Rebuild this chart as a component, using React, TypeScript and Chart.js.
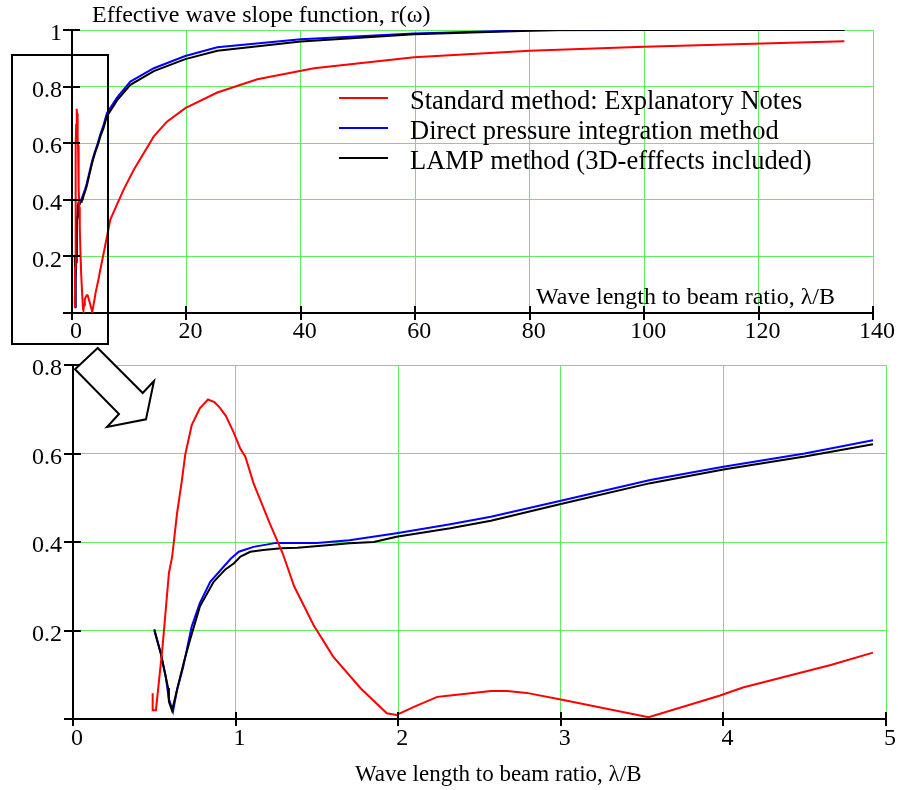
import React, { useEffect, useRef } from 'react';
import { Chart, registerables } from 'chart.js';

Chart.register(...registerables);

const FONT = '"Liberation Serif", "Times New Roman", serif';

// Standard method: Explanatory Notes (red)
const stdX = [0.49, 0.49, 0.51, 0.55, 0.59, 0.61, 0.64, 0.67, 0.69, 0.73, 0.78, 0.83, 0.87, 0.9, 0.94, 0.99, 1.03, 1.06, 1.11, 1.21, 1.29, 1.36, 1.48, 1.6, 1.77, 1.93, 1.99, 2.1, 2.24, 2.32, 2.57, 2.67, 2.79, 3.0, 3.54, 3.98, 4.12, 4.66, 4.92, 5.54, 6.7, 9.0, 10.8, 14.3, 16.6, 19.8, 25.4, 32.4, 42.3, 59.8, 80, 100, 135];
const stdY = [0.058, 0.02, 0.02, 0.16, 0.33, 0.367, 0.465, 0.54, 0.597, 0.664, 0.702, 0.722, 0.716, 0.705, 0.685, 0.646, 0.61, 0.593, 0.533, 0.442, 0.374, 0.3, 0.212, 0.141, 0.069, 0.013, 0.009, 0.028, 0.05, 0.053, 0.063, 0.063, 0.059, 0.044, 0.004, 0.053, 0.071, 0.122, 0.15, 0.212, 0.33, 0.435, 0.506, 0.624, 0.676, 0.724, 0.779, 0.826, 0.865, 0.904, 0.927, 0.941, 0.96];

// Direct pressure integration method (blue)
const dpiX = [0.5, 0.54, 0.57, 0.59, 0.615, 0.64, 0.676, 0.73, 0.78, 0.844, 0.926, 0.97, 1.02, 1.11, 1.25, 1.5, 1.7, 1.99, 2.32, 2.57, 3.0, 3.55, 4.0, 4.5, 4.92, 5.53, 6.1, 7.9, 10.2, 14.3, 19.8, 25.4, 40, 59.8, 80, 100, 135];
const dpiY = [0.2, 0.148, 0.096, 0.045, 0.017, 0.066, 0.115, 0.209, 0.262, 0.31, 0.344, 0.362, 0.378, 0.389, 0.398, 0.398, 0.404, 0.42, 0.44, 0.457, 0.493, 0.54, 0.57, 0.6, 0.63, 0.665, 0.706, 0.762, 0.818, 0.865, 0.908, 0.939, 0.967, 0.988, 0.999, 1.0, 1.0];

// LAMP method (black)
const lampX = [0.5, 0.54, 0.57, 0.585, 0.59, 0.609, 0.64, 0.68, 0.72, 0.78, 0.865, 0.937, 0.99, 1.03, 1.09, 1.17, 1.28, 1.38, 1.58, 1.7, 1.85, 1.99, 2.32, 2.57, 3.0, 3.55, 4.0, 4.5, 4.92, 5.53, 6.1, 7.9, 10.2, 14.3, 19.8, 25.4, 40, 59.8, 80, 85, 135];
const lampY = [0.203, 0.148, 0.096, 0.07, 0.039, 0.019, 0.066, 0.126, 0.179, 0.254, 0.31, 0.338, 0.352, 0.367, 0.378, 0.382, 0.386, 0.387, 0.393, 0.397, 0.4, 0.412, 0.431, 0.448, 0.486, 0.533, 0.564, 0.593, 0.621, 0.655, 0.695, 0.752, 0.806, 0.855, 0.897, 0.927, 0.959, 0.985, 0.997, 1.0, 1.0];

const seriesNames = [
  'Standard method: Explanatory Notes',
  'Direct pressure integration method',
  'LAMP method (3D-efffects included)',
];
const seriesColors = ['#ff0000', '#0000ff', '#000000'];
const seriesOrder = [0, 2, 1];
const seriesX = [stdX, dpiX, lampX];
const seriesY = [stdY, dpiY, lampY];

const topYTitle = 'Effective wave slope function, r(\u03c9)';
const xTitle = 'Wave length to beam ratio, \u03bb/B';

const topXRange = [0, 140, 20];
const topYRange = [0, 1, 0.2];
const botXRange = [0, 5, 1];
const botYRange = [0, 0.8, 0.2];

const GRID = '#5ef05e';

function makeDatasets(maxX: number) {
  return seriesNames.map((name, i) => ({
    label: name,
    data: seriesX[i]
      .map((x, j) => ({ x, y: seriesY[i][j] }))
      .filter((p) => p.x <= maxX),
    borderColor: seriesColors[i],
    backgroundColor: seriesColors[i],
    borderWidth: 2,
    pointRadius: 0,
    tension: 0,
    fill: false,
    order: seriesOrder[i],
  }));
}

const fmt = (v: number) => String(+Number(v).toFixed(2));

const crossTicks = {
  id: 'crossTicks',
  afterDatasetsDraw(chart: any) {
    const ctx = chart.ctx;
    const xs = chart.scales.x;
    const ys = chart.scales.y;
    const a = chart.chartArea;
    ctx.save();
    ctx.strokeStyle = '#000';
    ctx.lineWidth = 2;
    ctx.beginPath();
    ys.ticks.forEach((t: any) => {
      const p = Math.round(ys.getPixelForValue(t.value));
      ctx.moveTo(a.left - 9, p);
      ctx.lineTo(a.left + 8, p);
    });
    xs.ticks.forEach((t: any) => {
      const p = Math.round(xs.getPixelForValue(t.value));
      ctx.moveTo(p, a.bottom - 7);
      ctx.lineTo(p, a.bottom + 7);
    });
    ctx.stroke();
    ctx.restore();
  },
};

const topDecor = {
  id: 'topDecor',
  afterDraw(chart: any) {
    const ctx = chart.ctx;
    const a = chart.chartArea;
    ctx.save();
    ctx.fillStyle = '#000';
    ctx.textBaseline = 'alphabetic';
    ctx.textAlign = 'left';
    ctx.font = `24px ${FONT}`;
    ctx.fillText(topYTitle, a.left + 20, a.top - 8);
    ctx.fillText(xTitle, a.left + 464, a.bottom - 9);
    // legend
    ctx.font = `26.5px ${FONT}`;
    seriesNames.forEach((name, i) => {
      const yy = a.top + 68 + i * 30;
      ctx.strokeStyle = seriesColors[i];
      ctx.lineWidth = 2;
      ctx.beginPath();
      ctx.moveTo(a.left + 267, yy);
      ctx.lineTo(a.left + 316, yy);
      ctx.stroke();
      ctx.fillStyle = '#000';
      ctx.fillText(name, a.left + 338, yy + 11);
    });
    ctx.restore();
  },
};

const botDecor = {
  id: 'botDecor',
  afterDraw(chart: any) {
    const ctx = chart.ctx;
    const a = chart.chartArea;
    ctx.save();
    ctx.fillStyle = '#000';
    ctx.textBaseline = 'alphabetic';
    ctx.textAlign = 'left';
    ctx.font = `23px ${FONT}`;
    ctx.fillText(xTitle, 355, a.bottom + 62);
    // zoom box
    ctx.strokeStyle = '#000';
    ctx.lineWidth = 2;
    ctx.strokeRect(12, 55, 96, 289);
    // arrow
    const pts = [
      [97.7, 348],
      [75, 369.3],
      [119, 414],
      [107, 427],
      [146, 419.3],
      [154, 381],
      [142.7, 393],
    ];
    ctx.beginPath();
    pts.forEach(([px, py], i) => (i ? ctx.lineTo(px, py) : ctx.moveTo(px, py)));
    ctx.closePath();
    ctx.fillStyle = '#fff';
    ctx.fill();
    ctx.lineWidth = 2;
    ctx.stroke();
    ctx.restore();
  },
};

function axisOpts(range: number[], fixSize: (s: any) => void, labelOffset: number, padding: number) {
  return {
    type: 'linear' as const,
    min: range[0],
    max: range[1],
    afterFit: fixSize,
    grid: { color: GRID, lineWidth: 1, drawTicks: false },
    border: { display: true, color: '#000', width: 2 },
    ticks: {
      stepSize: range[2],
      autoSkip: false,
      maxRotation: 0,
      color: '#000',
      labelOffset,
      padding,
      font: { family: FONT, size: 24 },
      callback: (v: any) => (Number(v) === 0 && padding > 6 ? '' : fmt(v)),
    },
  };
}

export default function App() {
  const topRef = useRef<HTMLCanvasElement>(null);
  const botRef = useRef<HTMLCanvasElement>(null);

  useEffect(() => {
    const common = {
      responsive: false,
      animation: false as const,
      devicePixelRatio: 1,
      plugins: { legend: { display: false }, tooltip: { enabled: false }, title: { display: false } },
      events: [] as any[],
    };
    const top = new Chart(topRef.current!, {
      type: 'line',
      data: { datasets: makeDatasets(1000) as any },
      options: {
        ...common,
        layout: { padding: { left: 0, right: 25, top: 30, bottom: 0 } },
        scales: {
          x: axisOpts(topXRange, (s) => { s.height = 477; }, 4, 4),
          y: axisOpts(topYRange, (s) => { s.width = 72; }, 4, 10),
        },
      } as any,
      plugins: [crossTicks, topDecor],
    });
    const bot = new Chart(botRef.current!, {
      type: 'line',
      data: { datasets: makeDatasets(botXRange[1]) as any },
      options: {
        ...common,
        layout: { padding: { left: 0, right: 12, top: 365, bottom: 0 } },
        scales: {
          x: axisOpts(botXRange, (s) => { s.height = 71; }, 4, 5),
          y: axisOpts(botYRange, (s) => { s.width = 73; }, 4, 11),
        },
      } as any,
      plugins: [crossTicks, botDecor],
    });
    return () => {
      top.destroy();
      bot.destroy();
    };
  }, []);

  const cstyle: React.CSSProperties = { position: 'absolute', left: 0, top: 0 };
  return (
    <div style={{ position: 'absolute', left: 0, top: 0, width: 898, height: 790, background: '#fff' }}>
      <canvas ref={topRef} width={898} height={790} style={cstyle} />
      <canvas ref={botRef} width={898} height={790} style={cstyle} />
    </div>
  );
}
